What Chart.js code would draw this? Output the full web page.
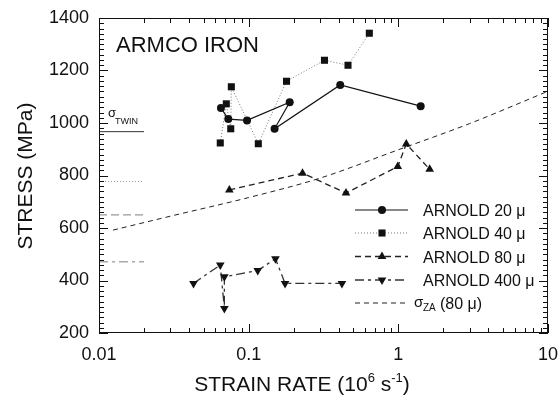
<!DOCTYPE html>
<html>
<head>
<meta charset="utf-8">
<script src="https://cdn.jsdelivr.net/npm/chart.js@4"></script>
<style>
  html, body { margin: 0; padding: 0; background: #fff; }
  #wrap { position: relative; width: 559px; height: 402px; }
  #wrap canvas { position: absolute; left: 0; top: 0; }
  #overlay { pointer-events: none; }
</style>
</head>
<body>
<div id="wrap">
<canvas id="myChart" width="559" height="402"></canvas>
<canvas id="overlay" width="559" height="402"></canvas>
</div>
<script>
// strain rate (10^6 1/s) and stress (MPa)
var rate20 = [0.0653, 0.0731, 0.0975, 0.188, 0.149, 0.409, 1.41];
var stress20 = [1057, 1015, 1010, 1079, 978, 1145, 1064];
var rate40 = [0.0646, 0.0709, 0.0759, 0.0766, 0.116, 0.179, 0.321, 0.461, 0.640];
var stress40 = [924, 1073, 978, 1138, 921, 1159, 1239, 1220, 1342];
var rate80 = [0.0743, 0.229, 0.447, 0.991, 1.13, 1.62];
var stress80 = [745, 809, 733, 834, 920, 824];
var rate400 = [0.0428, 0.0646, 0.0688, 0.0688, 0.115, 0.151, 0.175, 0.420];
var stress400 = [389, 459, 293, 414, 438, 483, 389, 389];
var rateZA = [0.0124, 0.03, 0.1, 0.3, 1, 3, 10];
var stressZA = [592, 645, 716, 790, 898, 998, 1121];
// short reference marks on the left edge
var refRate = [0.01, 0.02];
var refStress = [967, 777, 650, 471];
var xTickLabels = [0.01, 0.1, 1, 10];
var yTickLabels = [200, 400, 600, 800, 1000, 1200, 1400];
var legendLabels = ["ARNOLD 20 μ", "ARNOLD 40 μ", "ARNOLD 80 μ", "ARNOLD 400 μ"];

var FONT = 'Arial, "Liberation Sans", sans-serif';

function pts(xs, ys) {
    return xs.map(function (v, i) { return { x: v, y: ys[i] }; });
}
function refLine(v) {
    return refRate.map(function (r) { return { x: r, y: v }; });
}

var series = [
    { label: legendLabels[0], data: pts(rate20, stress20), borderColor: "#111", backgroundColor: "#111",
      borderWidth: 1.2, borderDash: [], pointStyle: "circle", pointRadius: 4, pointRotation: 0 },
    { label: legendLabels[1], data: pts(rate40, stress40), borderColor: "#777", backgroundColor: "#111",
      borderWidth: 1, borderDash: [1, 2], pointStyle: "rect", pointRadius: 5, pointRotation: 0 },
    { label: legendLabels[2], data: pts(rate80, stress80), borderColor: "#222", backgroundColor: "#111",
      borderWidth: 1.3, borderDash: [6, 4], pointStyle: "triangle", pointRadius: 5, pointRotation: 0 },
    { label: legendLabels[3], data: pts(rate400, stress400), borderColor: "#333", backgroundColor: "#111",
      borderWidth: 1.3, borderDash: [9, 4, 3, 4], pointStyle: "triangle", pointRadius: 5, pointRotation: 180 },
    { label: "ZA", data: pts(rateZA, stressZA), borderColor: "#222", backgroundColor: "#222",
      borderWidth: 1, borderDash: [5, 4], pointRadius: 0, tension: 0.4, cubicInterpolationMode: "monotone" }
];

var refs = [
    { data: refLine(refStress[0]), borderColor: "#333", borderWidth: 1, borderDash: [] },
    { data: refLine(refStress[1]), borderColor: "#999", borderWidth: 1, borderDash: [1, 2] },
    { data: refLine(refStress[2]), borderColor: "#999", borderWidth: 1.3, borderDash: [8, 4] },
    { data: refLine(refStress[3]), borderColor: "#aaa", borderWidth: 1.5, borderDash: [9, 4, 3, 4] }
];

var datasets = series.map(function (s) {
    return Object.assign({ type: "line", fill: false, pointBorderWidth: 0, pointHoverRadius: 0 }, s);
}).concat(refs.map(function (r) {
    return Object.assign({ type: "line", fill: false, pointRadius: 0 }, r);
}));

// frame and inward ticks on a layer above the chart, placed with the chart's scales
function drawFrame(chart) {
    var c = document.getElementById("overlay").getContext("2d");
    var xs = chart.scales.x, ys = chart.scales.y;
    var L = Math.round(xs.left), R = Math.round(xs.right);
    var T = Math.round(ys.top), B = Math.round(ys.bottom);
    c.clearRect(0, 0, 559, 402);
    c.fillStyle = "#111";
    c.fillRect(L, T, R - L, 1);
    c.fillRect(L, B - 1, R - L, 1);
    c.fillRect(L, T, 1, B - T);
    c.fillRect(R - 1, T, 1, B - T);
    for (var v = 200; v <= 1400; v += 20) {
        var py = Math.round(ys.getPixelForValue(v));
        var len = v % 200 === 0 ? 9 : 5;
        c.fillRect(L, py, len, 1);
        c.fillRect(R - len, py, len, 1);
    }
    for (var d = 0.01; d < 5; d *= 10) {
        for (var k = 1; k <= 10; k++) {
            var px = Math.round(xs.getPixelForValue(k * d));
            var l = (k === 1 || k === 10) ? 9 : 5;
            c.fillRect(px, B - l, 1, l);
            c.fillRect(px, T, 1, l);
        }
    }
}

// titles, legend and annotations
var decor = {
    id: "decor",
    afterDraw: function (chart) {
        var c = chart.ctx;
        c.save();
        c.fillStyle = "#111";
        c.textAlign = "left";
        c.textBaseline = "alphabetic";
        c.font = "22px " + FONT;
        c.fillText("ARMCO IRON", 116, 52);

        c.font = "13px " + FONT;
        c.fillText("σ", 108, 117);
        c.font = "9px " + FONT;
        c.fillText("TWIN", 115, 124);

        c.save();
        c.translate(32, 176);
        c.rotate(-Math.PI / 2);
        c.textAlign = "center";
        c.font = "21px " + FONT;
        c.fillText("STRESS (MPa)", 0, 0);
        c.restore();

        var parts = [["STRAIN RATE (10", 21, 0], ["6", 13, -9], [" s", 21, 0], ["-1", 13, -9], [")", 21, 0]];
        var total = 0;
        parts.forEach(function (p) { c.font = p[1] + "px " + FONT; total += c.measureText(p[0]).width; });
        var tx = 302 - total / 2;
        parts.forEach(function (p) {
            c.font = p[1] + "px " + FONT;
            c.fillText(p[0], tx, 391 + p[2]);
            tx += c.measureText(p[0]).width;
        });

        var rows = [210, 233, 256.5, 280, 303];
        for (var i = 0; i < 5; i++) {
            var ds = chart.data.datasets[i];
            var ry = rows[i];
            c.save();
            c.strokeStyle = ds.borderColor;
            c.lineWidth = ds.borderWidth;
            c.setLineDash(ds.borderDash);
            c.beginPath();
            c.moveTo(355, ry); c.lineTo(408, ry);
            c.stroke();
            c.restore();
            if (ds.pointRadius > 0) {
                c.fillStyle = ds.backgroundColor;
                Chart.helpers.drawPoint(c, {
                    pointStyle: ds.pointStyle, radius: ds.pointRadius,
                    rotation: ds.pointRotation, borderWidth: 0
                }, 382, ry);
            }
            c.fillStyle = "#111";
            c.font = "16px " + FONT;
            if (i < 4) {
                c.fillText(ds.label, 423, ry + 6);
            } else {
                c.font = "15px " + FONT;
                c.fillText("σ", 414, ry + 4);
                c.font = "10px " + FONT;
                c.fillText("ZA", 423, ry + 8);
                c.font = "16px " + FONT;
                c.fillText("(80 μ)", 440, ry + 6);
            }
        }
        c.restore();
        drawFrame(chart);
    }
};

var ctx = document.getElementById("myChart").getContext("2d");
var chart = new Chart(ctx, {
    data: { datasets: datasets },
    options: {
        responsive: false,
        animation: false,
        layout: { padding: { top: 18, right: 11, left: 0, bottom: 0 } },
        plugins: { legend: { display: false }, tooltip: { enabled: false } },
        scales: {
            x: {
                type: "logarithmic",
                min: 0.01,
                max: 10,
                grid: { display: false, drawTicks: false },
                border: { display: false },
                afterFit: function (s) {
                    s.height = 69;
                    s.paddingLeft = 0;
                    s.paddingRight = 0;
                },
                ticks: {
                    autoSkip: false,
                    maxRotation: 0,
                    padding: 11,
                    color: "#111",
                    font: { family: FONT, size: 18 },
                    callback: function (v) {
                        return xTickLabels.some(function (t) { return Math.abs(t - v) < t * 1e-6; }) ? String(v) : "";
                    }
                }
            },
            y: {
                type: "linear",
                min: 200,
                max: 1400,
                grid: { display: false, drawTicks: false },
                border: { display: false },
                afterFit: function (s) {
                    s.width = 99;
                    s.paddingTop = 0;
                    s.paddingBottom = 0;
                },
                ticks: {
                    stepSize: 200,
                    padding: 10,
                    color: "#111",
                    font: { family: FONT, size: 18 },
                    callback: function (v) { return yTickLabels.indexOf(v) >= 0 ? String(v) : ""; }
                }
            }
        }
    },
    plugins: [decor]
});
</script>
</body>
</html>
